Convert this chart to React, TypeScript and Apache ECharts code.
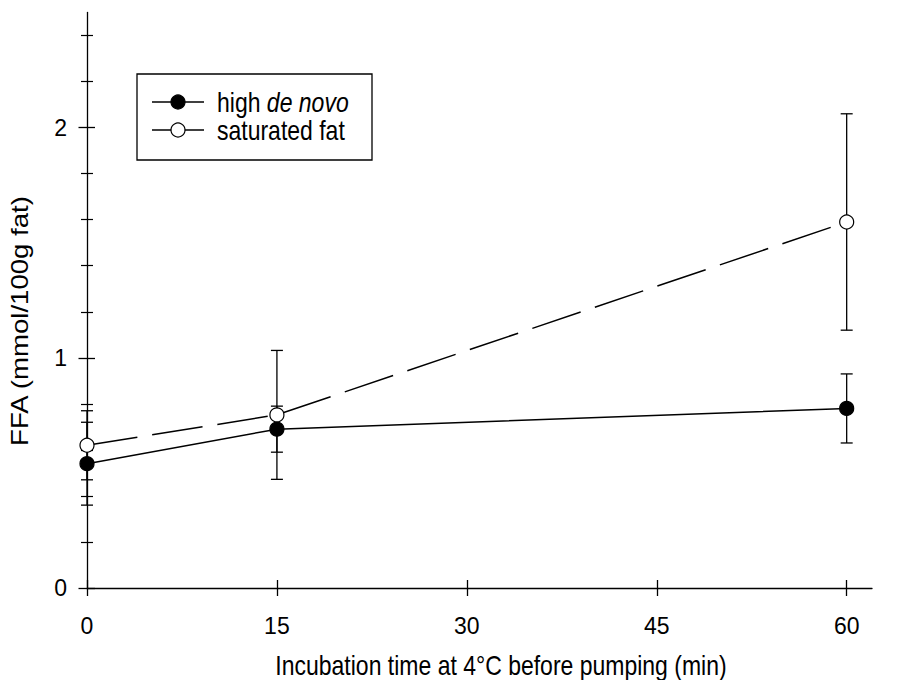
import React, { useEffect, useRef } from "react";
import * as echarts from "echarts";

const xValues = [0, 15, 60];
const highDeNovo = [0.54, 0.69, 0.78];
const highDeNovoErr = [0.18, 0.1, 0.15];
const saturatedFat = [0.62, 0.752, 1.59];
const saturatedFatErr = [0.15, 0.28, 0.47];
const xTicks = [0, 15, 30, 45, 60];
const yMajorTicks = [0, 1, 2];
const yMinorTicks = [0.2, 0.4, 0.6, 0.8, 1.2, 1.4, 1.6, 1.8, 2.2, 2.4];
const seriesNames = ["high de novo", "saturated fat"];

const FONT = "'Liberation Sans', Arial, Helvetica, sans-serif";
const FS = 23;
const STRETCH = 1.2;

const errorSeries = (name: string, vals: number[], errs: number[]) => ({
  type: "custom",
  name,
  xAxisIndex: 0,
  yAxisIndex: 0,
  z: 2,
  clip: false,
  silent: true,
  data: xValues.map((x, i) => [x, vals[i] - errs[i], vals[i] + errs[i]]),
  encode: { x: 0, y: [1, 2] },
  renderItem: (params: any, api: any) => {
    const x = api.value(0);
    const lo = api.coord([x, api.value(1)]);
    const hi = api.coord([x, api.value(2)]);
    const hw = 6;
    const style = { stroke: "#000", lineWidth: 1.3 };
    return {
      type: "group",
      children: [
        { type: "line", shape: { x1: hi[0], y1: hi[1], x2: lo[0], y2: lo[1] }, style },
        { type: "line", shape: { x1: hi[0] - hw, y1: hi[1], x2: hi[0] + hw, y2: hi[1] }, style },
        { type: "line", shape: { x1: lo[0] - hw, y1: lo[1], x2: lo[0] + hw, y2: lo[1] }, style },
      ],
    };
  },
});

const legendRow = (y: number, filled: boolean, label: string) => [
  { type: "line", shape: { x1: 152, y1: y, x2: 204, y2: y }, style: { stroke: "#000", lineWidth: 1.5 } },
  { type: "circle", shape: { cx: 178, cy: y, r: 7 }, style: { fill: filled ? "#000" : "#fff", stroke: "#000", lineWidth: 1.2 } },
  {
    type: "text",
    x: 217,
    y,
    scaleY: STRETCH,
    style: {
      text: label,
      fill: "#000",
      fontSize: FS,
      fontFamily: FONT,
      align: "left",
      verticalAlign: "middle",
      rich: { i: { fontStyle: "italic", fontSize: FS, fontFamily: FONT, fill: "#000" } },
    },
  },
];

export default function App() {
  const ref = useRef<HTMLDivElement>(null);
  useEffect(() => {
    if (!ref.current) return;
    const chart = echarts.init(ref.current, null, { renderer: "svg" });
    const axisCommon = { min: 0, splitLine: { show: false } };
    const tickStyle = { color: "#000", width: 1.3 };
    const option: any = {
      animation: false,
      backgroundColor: "#fff",
      grid: { left: 87, right: 901 - 872, top: 12.5, bottom: 680 - 588, containLabel: false },
      xAxis: [
        {
          ...axisCommon,
          type: "value",
          max: 62,
          position: "bottom",
          axisLine: { show: true, lineStyle: tickStyle },
          axisTick: { show: true, inside: false, length: 8, customValues: xTicks, lineStyle: tickStyle },
          axisLabel: { customValues: xTicks, margin: 26, color: "#000", fontSize: FS, fontFamily: FONT },
        },
        {
          ...axisCommon,
          type: "value",
          max: 62,
          position: "bottom",
          axisLine: { show: false },
          axisTick: { show: true, inside: true, length: 8, customValues: xTicks, lineStyle: tickStyle },
          axisLabel: { show: false },
        },
      ],
      yAxis: [
        {
          ...axisCommon,
          type: "value",
          max: 2.5,
          position: "left",
          axisLine: { show: true, lineStyle: tickStyle },
          axisTick: { show: true, inside: false, length: 8.5, customValues: yMajorTicks, lineStyle: tickStyle },
          axisLabel: { customValues: yMajorTicks, margin: 20, color: "#000", fontSize: FS, fontFamily: FONT },
        },
        {
          ...axisCommon,
          type: "value",
          max: 2.5,
          position: "left",
          axisLine: { show: false },
          axisTick: { show: true, inside: true, length: 8, customValues: yMajorTicks, lineStyle: tickStyle },
          axisLabel: { show: false },
        },
        {
          ...axisCommon,
          type: "value",
          max: 2.5,
          position: "left",
          axisLine: { show: false },
          axisTick: { show: true, inside: false, length: 6, customValues: yMinorTicks, lineStyle: { color: "#000", width: 1.2 } },
          axisLabel: { show: false },
        },
        {
          ...axisCommon,
          type: "value",
          max: 2.5,
          position: "left",
          axisLine: { show: false },
          axisTick: { show: true, inside: true, length: 6, customValues: yMinorTicks, lineStyle: { color: "#000", width: 1.2 } },
          axisLabel: { show: false },
        },
      ],
      graphic: [
        {
          type: "group",
          children: [
            { type: "rect", shape: { x: 137, y: 74, width: 235, height: 86 }, style: { fill: "#fff", stroke: "#000", lineWidth: 1.3 } },
            ...legendRow(102, true, "high {i|de novo}"),
            ...legendRow(130, false, seriesNames[1]),
          ],
        },
        {
          type: "text",
          x: 20,
          y: 321,
          rotation: Math.PI / 2,
          scaleX: STRETCH,
          style: {
            text: "FFA (mmol/100g fat)",
            fill: "#000",
            fontSize: FS,
            fontFamily: FONT,
            align: "center",
            verticalAlign: "middle",
          },
        },
        {
          type: "text",
          x: 501,
          y: 665,
          scaleY: STRETCH,
          style: {
            text: "Incubation time at 4°C before pumping (min)",
            fill: "#000",
            fontSize: FS,
            fontFamily: FONT,
            align: "center",
            verticalAlign: "middle",
          },
        },
      ],
      series: [
        errorSeries("high de novo error", highDeNovo, highDeNovoErr),
        errorSeries("saturated fat error", saturatedFat, saturatedFatErr),
        {
          type: "line",
          name: seriesNames[0],
          xAxisIndex: 0,
          yAxisIndex: 0,
          z: 3,
          data: xValues.map((x, i) => [x, highDeNovo[i]]),
          symbol: "circle",
          symbolSize: 14,
          showAllSymbol: true,
          lineStyle: { color: "#000", width: 1.5, type: "solid" },
          itemStyle: { color: "#000", borderColor: "#000", borderWidth: 1.2 },
        },
        {
          type: "line",
          name: seriesNames[1],
          xAxisIndex: 0,
          yAxisIndex: 0,
          z: 4,
          data: xValues.map((x, i) => [x, saturatedFat[i]]),
          symbol: "circle",
          symbolSize: 14,
          showAllSymbol: true,
          lineStyle: { color: "#000", width: 1.5, type: [51, 15], dashOffset: 0 },
          itemStyle: { color: "#fff", borderColor: "#000", borderWidth: 1.2 },
        },
      ],
    };
    chart.setOption(option);
    return () => chart.dispose();
  }, []);
  return (
    <div
      ref={ref}
      style={{ position: "fixed", left: 0, top: 0, width: 901, height: 680, background: "#fff" }}
    />
  );
}
